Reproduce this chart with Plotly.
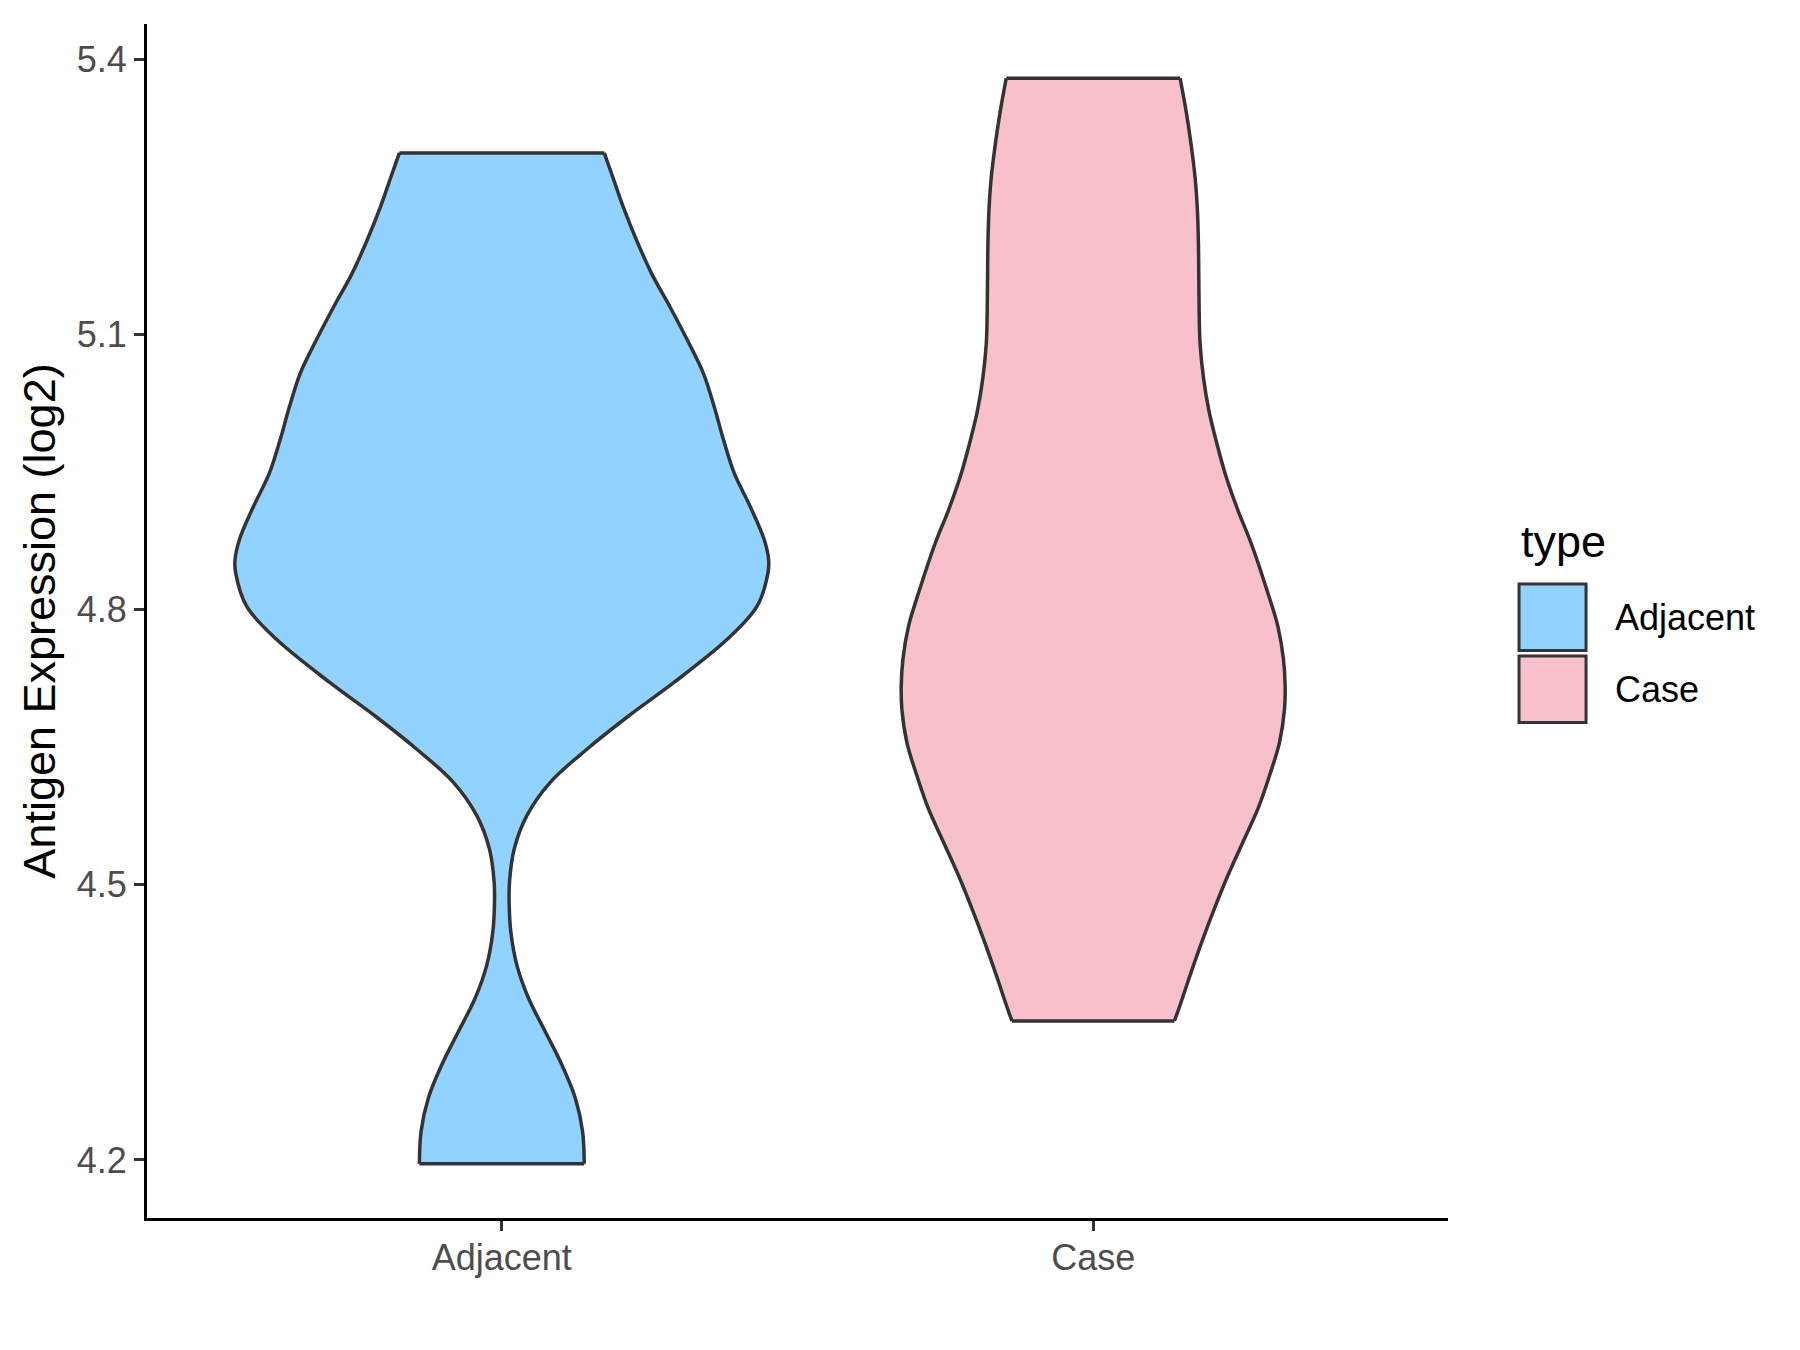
import plotly.graph_objects as go

# ---------------- data ----------------
categories = ["Adjacent", "Case"]
fill_colors = ["#92D2FE", "#F7C0CB"]

# violin outlines: y level and half-width (in category units)
adj_y = [5.2976, 5.2741, 5.2378, 5.2017, 5.1655, 5.1292, 5.0931, 5.0569, 5.0206, 4.9844,
         4.9483, 4.9120, 4.8758, 4.8541, 4.8397, 4.8034, 4.7672, 4.7202, 4.6839,
         4.6477, 4.6116, 4.5753, 4.5391, 4.5030, 4.4775, 4.4487, 4.4124, 4.3762, 4.3400,
         4.3038, 4.2676, 4.2314, 4.1959]
adj_hw = [0.1732, 0.1861, 0.2059, 0.2284, 0.2538, 0.2849, 0.3142, 0.3412, 0.3593, 0.3751,
          0.3932, 0.4202, 0.4439, 0.4512, 0.4500, 0.4314, 0.3806, 0.2905, 0.2143,
          0.1438, 0.0819, 0.0423, 0.0210, 0.0130, 0.0125, 0.0152, 0.0254, 0.0452, 0.0734,
          0.1015, 0.1242, 0.1365, 0.1394]

case_y = [5.3790, 5.3429, 5.3067, 5.2704, 5.2343, 5.1981, 5.1618, 5.1256, 5.0895, 5.0532,
          5.0170, 4.9809, 4.9446, 4.9084, 4.8722, 4.8179, 4.7817, 4.7455, 4.7165, 4.6912,
          4.6550, 4.6188, 4.5826, 4.5464, 4.5101, 4.4740, 4.4378, 4.4015, 4.3689, 4.3516]
case_hw = [0.1470, 0.1572, 0.1656, 0.1724, 0.1763, 0.1780, 0.1786, 0.1792, 0.1808, 0.1864,
           0.1956, 0.2091, 0.2248, 0.2446, 0.2671, 0.2954, 0.3123, 0.3218, 0.3246, 0.3235,
           0.3150, 0.2981, 0.2785, 0.2531, 0.2277, 0.2050, 0.1837, 0.1639, 0.1470, 0.1374]

y_tickvals = [4.2, 4.5, 4.8, 5.1, 5.4]
y_ticktext = ["4.2", "4.5", "4.8", "5.1", "5.4"]
y_title = "Antigen Expression (log2)"
legend_title = "type"

# ---------------- figure ----------------
FONT = "Arial, Liberation Sans, sans-serif"
OUTLINE = "#333333"
LW = 3.5

fig = go.Figure()
all_y = []
for pos, (name, ys, hws, col) in enumerate(
        zip(categories, [adj_y, case_y], [adj_hw, case_hw], fill_colors), start=1):
    all_y += ys
    right_x = [pos + w for w in hws]
    left_x = [pos - w for w in hws]
    # filled body
    fig.add_trace(go.Scatter(
        x=right_x + left_x[::-1], y=ys + ys[::-1],
        mode="lines", fill="toself", fillcolor=col,
        line=dict(width=0, color=col), showlegend=False, hoverinfo="skip"))
    # curved sides
    fig.add_trace(go.Scatter(
        x=right_x + [None] + left_x, y=ys + [None] + ys,
        mode="lines", connectgaps=False,
        line=dict(color=OUTLINE, width=LW, shape="spline", smoothing=1),
        showlegend=False, hoverinfo="skip"))
    # flat top and bottom
    fig.add_trace(go.Scatter(
        x=[left_x[0], right_x[0], None, left_x[-1], right_x[-1]],
        y=[ys[0], ys[0], None, ys[-1], ys[-1]],
        mode="lines", line=dict(color=OUTLINE, width=LW),
        showlegend=False, hoverinfo="skip"))

ymin, ymax = min(all_y), max(all_y)
pad = 0.05 * (ymax - ymin)

axis_common = dict(
    showline=True, linecolor="black", linewidth=3, mirror=False,
    ticks="outside", ticklen=10, tickwidth=2.5, tickcolor=OUTLINE,
    tickfont=dict(size=36, color="#4D4D4D", family=FONT),
    showgrid=False, zeroline=False,
)

fig.update_layout(
    width=1800, height=1350,
    margin=dict(l=139, r=360, t=16, b=140),
    paper_bgcolor="white", plot_bgcolor="white",
    font=dict(family=FONT),
    showlegend=False,
    xaxis=dict(range=[0.4, 2.6], tickvals=[1, 2], ticktext=categories,
               ticklabelstandoff=-4, **axis_common),
    yaxis=dict(range=[ymin - pad, ymax + pad], tickvals=y_tickvals, ticktext=y_ticktext,
               title=dict(text=y_title, font=dict(size=45, color="black", family=FONT),
                          standoff=8),
               **axis_common),
)

# ---------------- legend (ggplot style keys) ----------------
key_x0, key_x1 = 1.0546, 1.1061
key_rows = [(0.5310, 0.4753), (0.4707, 0.4150)]
for (top, bot), col, name in zip(key_rows, fill_colors, categories):
    fig.add_shape(type="rect", xref="paper", yref="paper",
                  x0=key_x0, x1=key_x1, y0=bot, y1=top,
                  fillcolor=col, line=dict(color=OUTLINE, width=3))
    fig.add_annotation(xref="paper", yref="paper", x=1.1268, y=(top + bot) / 2,
                       text=name, showarrow=False, xanchor="left", yanchor="middle",
                       font=dict(size=36, color="black", family=FONT))
fig.add_annotation(xref="paper", yref="paper", x=1.0546, y=0.5670,
                   text=legend_title, showarrow=False, xanchor="left", yanchor="middle",
                   font=dict(size=45, color="black", family=FONT))

fig.write_html("out.html")
